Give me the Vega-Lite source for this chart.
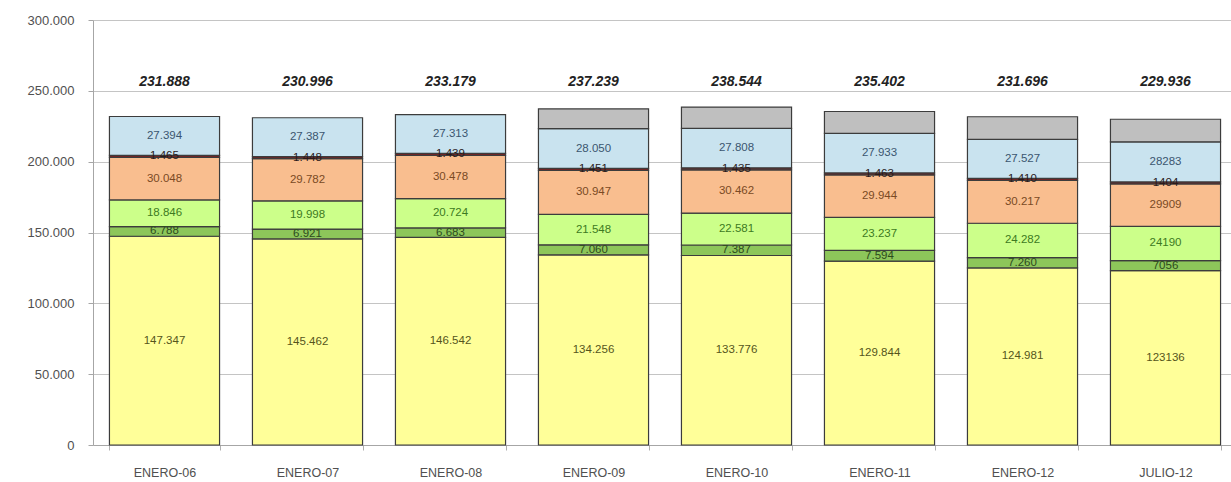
{
  "$schema": "https://vega.github.io/schema/vega-lite/v6.json",
  "width": 1144,
  "height": 425,
  "autosize": "none",
  "padding": {"left": 93, "top": 20, "right": 0, "bottom": 37},
  "background": "white",
  "config": {"view": {"stroke": null}, "font": "Liberation Sans"},
  "datasets": {
    "seg": [
      {"period": "ENERO-06", "serie": "S1", "o": 1, "value": 147347, "label": "147.347"},
      {"period": "ENERO-06", "serie": "S2", "o": 2, "value": 6788, "label": "6.788"},
      {"period": "ENERO-06", "serie": "S3", "o": 3, "value": 18846, "label": "18.846"},
      {"period": "ENERO-06", "serie": "S4", "o": 4, "value": 30048, "label": "30.048"},
      {"period": "ENERO-06", "serie": "S5", "o": 5, "value": 1465, "label": "1.465"},
      {"period": "ENERO-06", "serie": "S6", "o": 6, "value": 27394, "label": "27.394"},
      {"period": "ENERO-07", "serie": "S1", "o": 1, "value": 145462, "label": "145.462"},
      {"period": "ENERO-07", "serie": "S2", "o": 2, "value": 6921, "label": "6.921"},
      {"period": "ENERO-07", "serie": "S3", "o": 3, "value": 19998, "label": "19.998"},
      {"period": "ENERO-07", "serie": "S4", "o": 4, "value": 29782, "label": "29.782"},
      {"period": "ENERO-07", "serie": "S5", "o": 5, "value": 1448, "label": "1.448"},
      {"period": "ENERO-07", "serie": "S6", "o": 6, "value": 27387, "label": "27.387"},
      {"period": "ENERO-08", "serie": "S1", "o": 1, "value": 146542, "label": "146.542"},
      {"period": "ENERO-08", "serie": "S2", "o": 2, "value": 6683, "label": "6.683"},
      {"period": "ENERO-08", "serie": "S3", "o": 3, "value": 20724, "label": "20.724"},
      {"period": "ENERO-08", "serie": "S4", "o": 4, "value": 30478, "label": "30.478"},
      {"period": "ENERO-08", "serie": "S5", "o": 5, "value": 1439, "label": "1.439"},
      {"period": "ENERO-08", "serie": "S6", "o": 6, "value": 27313, "label": "27.313"},
      {"period": "ENERO-09", "serie": "S1", "o": 1, "value": 134256, "label": "134.256"},
      {"period": "ENERO-09", "serie": "S2", "o": 2, "value": 7060, "label": "7.060"},
      {"period": "ENERO-09", "serie": "S3", "o": 3, "value": 21548, "label": "21.548"},
      {"period": "ENERO-09", "serie": "S4", "o": 4, "value": 30947, "label": "30.947"},
      {"period": "ENERO-09", "serie": "S5", "o": 5, "value": 1451, "label": "1.451"},
      {"period": "ENERO-09", "serie": "S6", "o": 6, "value": 28050, "label": "28.050"},
      {"period": "ENERO-09", "serie": "S7", "o": 7, "value": 13927, "label": ""},
      {"period": "ENERO-10", "serie": "S1", "o": 1, "value": 133776, "label": "133.776"},
      {"period": "ENERO-10", "serie": "S2", "o": 2, "value": 7387, "label": "7.387"},
      {"period": "ENERO-10", "serie": "S3", "o": 3, "value": 22581, "label": "22.581"},
      {"period": "ENERO-10", "serie": "S4", "o": 4, "value": 30462, "label": "30.462"},
      {"period": "ENERO-10", "serie": "S5", "o": 5, "value": 1435, "label": "1.435"},
      {"period": "ENERO-10", "serie": "S6", "o": 6, "value": 27808, "label": "27.808"},
      {"period": "ENERO-10", "serie": "S7", "o": 7, "value": 15095, "label": ""},
      {"period": "ENERO-11", "serie": "S1", "o": 1, "value": 129844, "label": "129.844"},
      {"period": "ENERO-11", "serie": "S2", "o": 2, "value": 7594, "label": "7.594"},
      {"period": "ENERO-11", "serie": "S3", "o": 3, "value": 23237, "label": "23.237"},
      {"period": "ENERO-11", "serie": "S4", "o": 4, "value": 29944, "label": "29.944"},
      {"period": "ENERO-11", "serie": "S5", "o": 5, "value": 1463, "label": "1.463"},
      {"period": "ENERO-11", "serie": "S6", "o": 6, "value": 27933, "label": "27.933"},
      {"period": "ENERO-11", "serie": "S7", "o": 7, "value": 15387, "label": ""},
      {"period": "ENERO-12", "serie": "S1", "o": 1, "value": 124981, "label": "124.981"},
      {"period": "ENERO-12", "serie": "S2", "o": 2, "value": 7260, "label": "7.260"},
      {"period": "ENERO-12", "serie": "S3", "o": 3, "value": 24282, "label": "24.282"},
      {"period": "ENERO-12", "serie": "S4", "o": 4, "value": 30217, "label": "30.217"},
      {"period": "ENERO-12", "serie": "S5", "o": 5, "value": 1410, "label": "1.410"},
      {"period": "ENERO-12", "serie": "S6", "o": 6, "value": 27527, "label": "27.527"},
      {"period": "ENERO-12", "serie": "S7", "o": 7, "value": 16019, "label": ""},
      {"period": "JULIO-12", "serie": "S1", "o": 1, "value": 123136, "label": "123136"},
      {"period": "JULIO-12", "serie": "S2", "o": 2, "value": 7056, "label": "7056"},
      {"period": "JULIO-12", "serie": "S3", "o": 3, "value": 24190, "label": "24190"},
      {"period": "JULIO-12", "serie": "S4", "o": 4, "value": 29909, "label": "29909"},
      {"period": "JULIO-12", "serie": "S5", "o": 5, "value": 1404, "label": "1404"},
      {"period": "JULIO-12", "serie": "S6", "o": 6, "value": 28283, "label": "28283"},
      {"period": "JULIO-12", "serie": "S7", "o": 7, "value": 15958, "label": ""}
    ],
    "tot": [
      {"period": "ENERO-06", "total": 231888, "label": "231.888"},
      {"period": "ENERO-07", "total": 230996, "label": "230.996"},
      {"period": "ENERO-08", "total": 233179, "label": "233.179"},
      {"period": "ENERO-09", "total": 237239, "label": "237.239"},
      {"period": "ENERO-10", "total": 238544, "label": "238.544"},
      {"period": "ENERO-11", "total": 235402, "label": "235.402"},
      {"period": "ENERO-12", "total": 231696, "label": "231.696"},
      {"period": "JULIO-12", "total": 229936, "label": "229.936"}
    ]
  },
  "layer": [
    {
      "data": {"name": "seg"},
      "mark": {"type": "bar", "stroke": "#3c3c3c", "strokeWidth": 1.2},
      "encoding": {
        "x": {
          "field": "period", "type": "nominal", "sort": null, "title": null,
          "scale": {"paddingInner": 0.23, "paddingOuter": 0.115},
          "axis": {
            "labelAngle": 0, "labelFontSize": 12.5, "labelColor": "#505050",
            "labelPadding": 16, "tickBand": "extent", "tickSize": 5,
            "tickColor": "#b0b0b0", "domainColor": "#a6a6a6", "grid": false
          }
        },
        "y": {
          "field": "value", "type": "quantitative", "stack": "zero", "title": null,
          "scale": {"domain": [0, 300000], "nice": false},
          "axis": {
            "values": [0, 50000, 100000, 150000, 200000, 250000, 300000],
            "labelExpr": "replace(format(datum.value, ','), regexp(',', 'g'), '.')",
            "labelFontSize": 13, "labelColor": "#505050", "labelPadding": 14,
            "tickSize": 5, "tickColor": "#a6a6a6", "domainColor": "#a6a6a6",
            "grid": true, "gridColor": "#c4c4c4"
          }
        },
        "color": {
          "field": "serie", "type": "nominal", "legend": null,
          "scale": {
            "domain": ["S1", "S2", "S3", "S4", "S5", "S6", "S7"],
            "range": ["#FFFF99", "#8DC65A", "#CCFF8A", "#F9BE8F", "#7F1F1F", "#C9E3EF", "#BFBFBF"]
          }
        },
        "order": {"field": "o", "type": "quantitative"}
      }
    },
    {
      "data": {"name": "seg"},
      "transform": [
        {"stack": "value", "groupby": ["period"], "sort": [{"field": "o", "order": "ascending"}], "as": ["y0", "y1"]},
        {"fold": ["y0", "y1"], "as": ["k", "edge"]},
        {"aggregate": [{"op": "mean", "field": "edge", "as": "mid"}], "groupby": ["period", "serie", "label"]}
      ],
      "mark": {"type": "text", "fontSize": 11.5, "baseline": "middle", "align": "center"},
      "encoding": {
        "x": {"field": "period", "type": "nominal", "sort": null},
        "y": {"field": "mid", "type": "quantitative"},
        "text": {"field": "label"},
        "color": {
          "field": "serie", "type": "nominal", "legend": null,
          "scale": {
            "domain": ["S1", "S2", "S3", "S4", "S5", "S6", "S7"],
            "range": ["#55551c", "#2c4a1c", "#3d7a22", "#7a4a24", "#2a1a1a", "#3b5670", "#333333"]
          }
        }
      }
    },
    {
      "data": {"name": "tot"},
      "mark": {"type": "text", "fontSize": 14, "fontWeight": "bold", "fontStyle": "italic", "baseline": "middle", "align": "center", "color": "#222222"},
      "encoding": {
        "x": {"field": "period", "type": "nominal", "sort": null},
        "y": {"datum": 256000},
        "text": {"field": "label"}
      }
    }
  ],
  "resolve": {"scale": {"color": "independent"}}
}
